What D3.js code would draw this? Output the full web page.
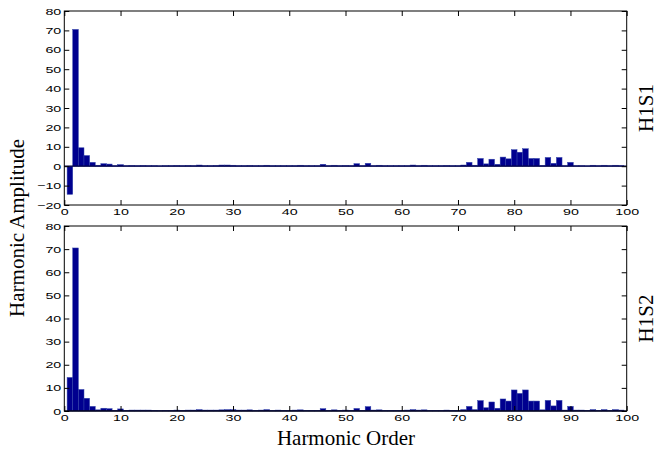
<!DOCTYPE html>
<html><head><meta charset="utf-8">
<script src="https://cdn.jsdelivr.net/npm/d3@7"></script>
<style>
body{margin:0;background:#fff;}
svg{display:block;}
.tick text{font-family:"Liberation Sans",Arial,sans-serif;font-size:9.5px;fill:#000;}
.domain{display:none;}
</style></head>
<body>
<svg id="c" width="663" height="455"></svg>
<script>
const harmonics = d3.range(1, 100);
const h1s1 = [
 -14.5, 70.5, 9.5, 5.5, 2.0, 0.5, 1.3, 1.1, 0.3, 0.8,
 0.3, 0.4, 0.3, 0.4, 0.3, 0.3, 0.2, 0.3, 0.3, 0.4,
 0.3, 0.4, 0.3, 0.6, 0.3, 0.3, 0.4, 0.6, 0.6, 0.5,
 0.3, 0.3, 0.4, 0.3, 0.3, 0.5, 0.3, 0.3, 0.3, 0.3,
 0.3, 0.5, 0.3, 0.3, 0.3, 1.0, 0.3, 0.5, 0.3, 0.4,
 0.3, 1.3, 0.3, 1.5, 0.3, 0.5, 0.3, 0.3, 0.3, 0.3,
 0.3, 0.6, 0.3, 0.5, 0.3, 0.3, 0.3, 0.4, 0.3, 0.3,
 0.6, 2.0, 0.5, 4.0, 1.2, 3.6, 1.0, 4.7, 3.8, 8.5,
 7.2, 9.0, 4.0, 4.0, 0.4, 4.5, 1.5, 4.5, 0.3, 2.0,
 0.3, 0.3, 0.2, 0.5, 0.3, 0.5, 0.3, 0.5, 0.3
];
const h1s2 = [
 14.5, 70.5, 9.3, 5.5, 2.0, 0.5, 1.2, 1.0, 0.3, 0.9,
 0.3, 0.4, 0.4, 0.4, 0.4, 0.3, 0.2, 0.3, 0.3, 0.4,
 0.3, 0.4, 0.4, 0.6, 0.4, 0.4, 0.4, 0.5, 0.6, 0.6,
 0.4, 0.4, 0.5, 0.3, 0.4, 0.6, 0.3, 0.4, 0.3, 0.3,
 0.4, 0.5, 0.3, 0.3, 0.3, 1.0, 0.3, 0.5, 0.3, 0.4,
 0.3, 1.1, 0.3, 1.9, 0.4, 0.5, 0.3, 0.3, 0.3, 0.3,
 0.4, 0.6, 0.4, 0.5, 0.3, 0.3, 0.3, 0.4, 0.3, 0.3,
 0.6, 2.0, 0.6, 4.5, 1.4, 3.9, 1.2, 5.2, 4.3, 9.1,
 7.6, 9.1, 4.3, 4.3, 0.5, 4.6, 2.2, 4.6, 0.4, 2.0,
 0.4, 0.4, 0.3, 0.6, 0.3, 0.6, 0.3, 0.6, 0.4
];
const xTicks = d3.range(0, 101, 10);
const y1Ticks = d3.range(-20, 81, 10);
const y2Ticks = d3.range(0, 81, 10);
const panelLabels = ["H1S1", "H1S2"];

const svg = d3.select("#c");
const L = 64.3, R = 626.7;
const x = d3.scaleLinear().domain([0, 100]).range([L, R]);

const panels = [
  {data: h1s1, y: d3.scaleLinear().domain([-20, 80]).range([205, 11]), ticks: y1Ticks, label: panelLabels[0]},
  {data: h1s2, y: d3.scaleLinear().domain([0, 80]).range([411, 226]), ticks: y2Ticks, label: panelLabels[1]}
];

panels.forEach(p => {
  const g = svg.append("g");
  const [yb, yt] = p.y.range();
  g.selectAll("rect").data(harmonics).enter().append("rect")
    .attr("x", n => x(n - 0.5))
    .attr("width", n => x(n + 0.5) - x(n - 0.5))
    .attr("y", (n, i) => p.y(Math.max(0, p.data[i])))
    .attr("height", (n, i) => Math.abs(p.y(p.data[i]) - p.y(0)))
    .attr("fill", "#00008f")
    .attr("stroke", "#3344aa")
    .attr("stroke-width", 0.5);
  g.append("line").attr("x1", L).attr("x2", R)
    .attr("y1", p.y(0)).attr("y2", p.y(0))
    .attr("stroke", "#000040").attr("stroke-width", 1.2);
  const bx = g.append("g").attr("transform", `translate(0,${yb})`)
    .call(d3.axisBottom(x).tickValues(xTicks).tickSizeInner(-5).tickSizeOuter(0).tickPadding(3));
  bx.selectAll("text").attr("transform", "scale(1.5,1)").attr("dy", "0.75em");
  g.append("g").attr("transform", `translate(0,${yt})`)
    .call(d3.axisTop(x).tickValues(xTicks).tickSizeInner(-5).tickSizeOuter(0).tickFormat(""));
  const ly = g.append("g").attr("transform", `translate(${L},0)`)
    .call(d3.axisLeft(p.y).tickValues(p.ticks).tickSizeInner(-5).tickSizeOuter(0).tickPadding(2));
  ly.selectAll("text").attr("transform", "scale(1.5,1)");
  g.append("g").attr("transform", `translate(${R},0)`)
    .call(d3.axisRight(p.y).tickValues(p.ticks).tickSizeInner(-5).tickSizeOuter(0).tickFormat(""));
  g.selectAll(".tick line").attr("stroke", "#000");
  g.append("rect").attr("x", L).attr("y", yt).attr("width", R - L).attr("height", yb - yt)
    .attr("fill", "none").attr("stroke", "#000").attr("stroke-width", 1);
  g.append("text")
    .attr("transform", `translate(653,${(yb + yt) / 2}) rotate(-90)`)
    .attr("text-anchor", "middle")
    .attr("font-family", "Liberation Serif, Times New Roman, serif")
    .attr("font-size", 21)
    .text(p.label);
});

svg.append("text")
  .attr("transform", "translate(24,228) rotate(-90)")
  .attr("text-anchor", "middle")
  .attr("font-family", "Liberation Serif, Times New Roman, serif")
  .attr("font-size", 21)
  .text("Harmonic Amplitude");

svg.append("text")
  .attr("x", 346).attr("y", 445)
  .attr("text-anchor", "middle")
  .attr("font-family", "Liberation Serif, Times New Roman, serif")
  .attr("font-size", 21)
  .text("Harmonic Order");
</script>
</body></html>
